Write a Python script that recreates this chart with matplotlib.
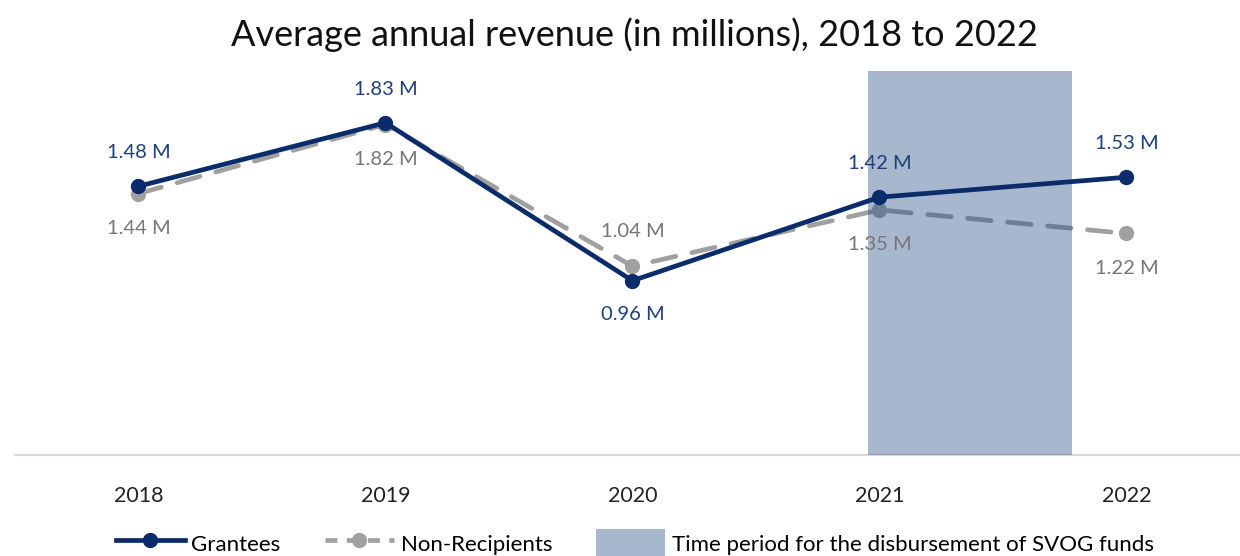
import matplotlib
matplotlib.use("Agg")
import matplotlib.pyplot as plt
from matplotlib.patches import Patch
from matplotlib.lines import Line2D

years = ["2018", "2019", "2020", "2021", "2022"]
grantees = [1.48, 1.83, 0.96, 1.42, 1.53]
non_recipients = [1.44, 1.82, 1.04, 1.35, 1.22]
# label above (+1) or below (-1) each point
grantee_side = [1, 1, -1, 1, 1]
non_recip_side = [-1, -1, 1, -1, -1]

NAVY = "#0b2c6b"
GREY = "#a0a0a0"
GREY_TEXT = "#767676"
BAND = "#234b84"

plt.rcParams["font.family"] = ["Lato", "DejaVu Sans"]

fig = plt.figure(figsize=(12.4, 5.56), dpi=100)
ax = fig.add_axes([15 / 1240, 1 - 455 / 556, 1 - 15 / 1240, (455 - 71) / 556])

x = list(range(len(years)))

ax.plot(x, non_recipients, color=GREY, lw=3.4, ls=(0, (5, 3.5)),
        marker="o", ms=10, zorder=2, dash_capstyle="round")
# SVOG disbursement window, drawn over the non-recipient line
ax.axvspan(3 - 0.045, 3.78, color=BAND, alpha=0.4, lw=0, zorder=3)
ax.plot(x, grantees, color=NAVY, lw=3.4, marker="o", ms=10, zorder=4)

for i, v in enumerate(grantees):
    ax.annotate(f"{v:.2f} M", (i, v), xytext=(0, 24 * grantee_side[i]),
                textcoords="offset points", ha="center", va="center",
                color="#1d3f7c", fontsize=14.5, zorder=5)
for i, v in enumerate(non_recipients):
    ax.annotate(f"{v:.2f} M", (i, v), xytext=(0, 25 * non_recip_side[i]),
                textcoords="offset points", ha="center", va="center",
                color=GREY_TEXT, fontsize=14.5, zorder=5)

ax.set_xlim(-0.5, 4.46)
ax.set_ylim(0, 2.115)
ax.set_xticks(x)
ax.set_xticklabels(years, fontsize=15.5, color="#222222")
ax.tick_params(axis="x", length=0, pad=22)
ax.set_yticks([])
for s in ["top", "right", "left"]:
    ax.spines[s].set_visible(False)
ax.spines["bottom"].set_color("#d9d9d9")
ax.spines["bottom"].set_linewidth(1.5)

fig.text(0.512, 1 - 35 / 556, "Average annual revenue (in millions), 2018 to 2022",
         ha="center", va="center", fontsize=26, color="#111111")

handles = [
    Line2D([], [], color=NAVY, lw=3.4, marker="o", ms=10),
    Line2D([], [], color=GREY, lw=3.4, ls=(0, (2.5, 2)), marker="o", ms=10),
    Patch(facecolor="#a7b7ce", edgecolor="none"),
]
labels = ["Grantees", "Non-Recipients", "Time period for the disbursement of SVOG funds"]
fig.legend(handles, labels, loc="center", bbox_to_anchor=(0.512, 0.022), ncol=3,
           frameon=False, fontsize=16, handlelength=3.1, handleheight=1.6,
           columnspacing=2.0, handletextpad=0.3)

fig.savefig("out.png", dpi=100)
